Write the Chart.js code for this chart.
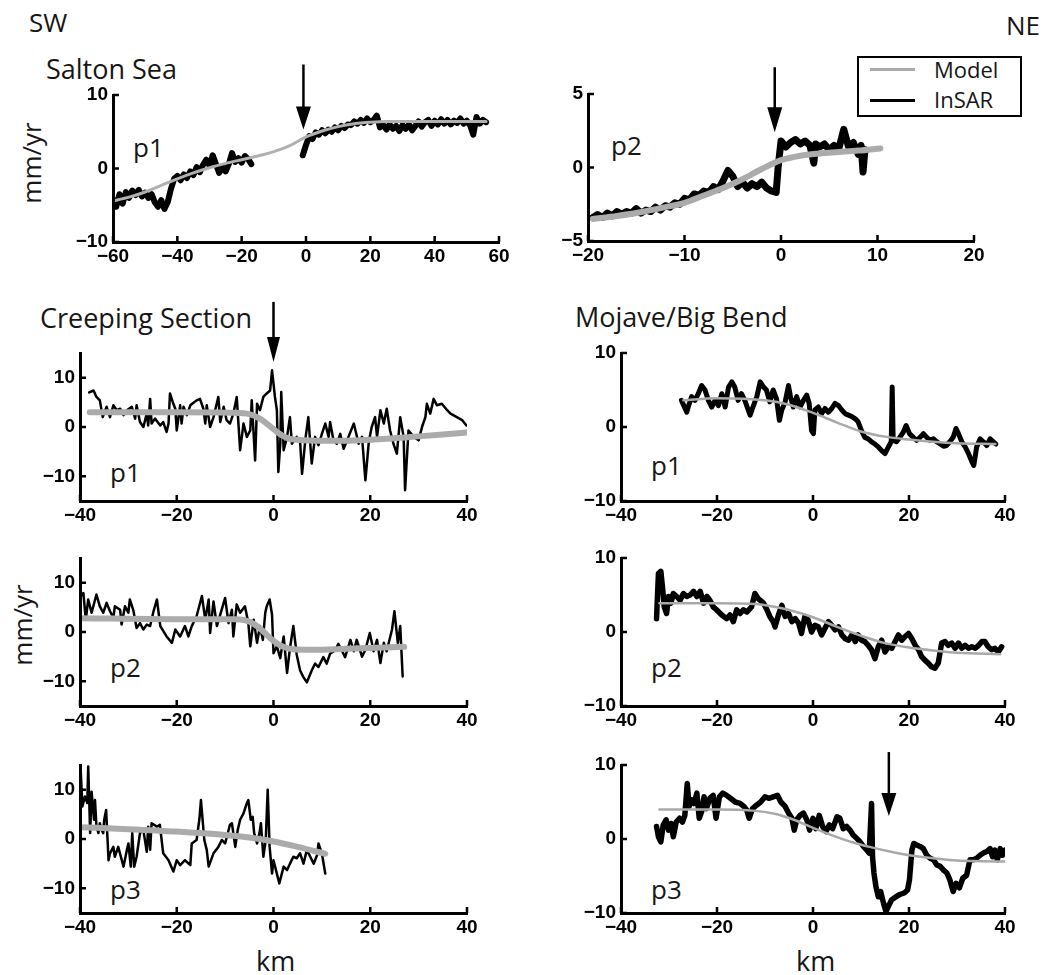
<!DOCTYPE html>
<html><head><meta charset="utf-8">
<script src="https://cdn.jsdelivr.net/npm/chart.js@4.4.1/dist/chart.umd.min.js"></script>
<style>
html,body{margin:0;padding:0;background:#fff;}
#fig{position:relative;width:1043px;height:975px;overflow:hidden;background:#fff;}
#fig canvas{position:absolute;}
.t{position:absolute;font-family:"Open Sans",sans-serif;font-size:26px;line-height:1;color:#161616;white-space:nowrap;}
.h{font-size:27px;}
.rot{transform:translate(-50%,-50%) rotate(-90deg);}
.lg{font-size:22px;}
</style></head><body>
<div id="fig">
  <div class="t" style="left:29px;top:9px">SW</div>
  <div class="t" style="left:1006px;top:12px">NE</div>
  <div class="t h" style="left:46px;top:55px">Salton Sea</div>
  <div class="t h" style="left:40px;top:304px">Creeping Section</div>
  <div class="t h" style="left:575px;top:303px">Mojave/Big Bend</div>
  <div class="t rot" style="left:31px;top:163px">mm/yr</div>
  <div class="t rot" style="left:22px;top:625px">mm/yr</div>
  <div class="t h" style="left:256px;top:947px">km</div>
  <div class="t h" style="left:796px;top:947px">km</div>
  <div class="t" style="left:133px;top:134px">p1</div>
  <div class="t" style="left:611px;top:132px">p2</div>
  <div class="t" style="left:110px;top:459px">p1</div>
  <div class="t" style="left:651px;top:452px">p1</div>
  <div class="t" style="left:110px;top:654px">p2</div>
  <div class="t" style="left:651px;top:654px">p2</div>
  <div class="t" style="left:110px;top:876px">p3</div>
  <div class="t" style="left:651px;top:876px">p3</div>
  <div style="position:absolute;left:857px;top:56px;width:165px;height:61px;box-sizing:border-box;border:2px solid #000;background:#fff;"></div>
  <div style="position:absolute;left:870px;top:68px;width:45px;height:3px;background:#ababab;"></div>
  <div style="position:absolute;left:870px;top:99px;width:45px;height:2.5px;background:#000;"></div>
  <div class="t lg" style="left:934px;top:58px">Model</div>
  <div class="t lg" style="left:934px;top:88px">InSAR</div>
</div>
<script>
// ---------- tick labels ----------
const kmTicksSalton1 = [-60, -40, -20, 0, 20, 40, 60];
const kmTicksSalton2 = [-20, -10, 0, 10, 20];
const kmTicks40 = [-40, -20, 0, 20, 40];
const velTicks10 = [-10, 0, 10];
const velTicks5 = [-5, 0, 5];

// ---------- Salton Sea p1 ----------
const saltonP1Km = [-60,-59,-58,-57,-56,-55,-54,-53,-52,-51,-50,-49,-48,-47,-46,-45,-44,-43,-42,-41,
 -40,-39,-38,-37,-36,-35,-34,-33,-32,-31,-30,-29,-28,-27,-26,-25,-24,-23,-22,-21,-20,-19,-18,-17,
 -9,
 -1,0,1,2,3,4,5,6,7,8,9,10,11,12,13,14,15,16,17,18,19,20,21,22,23,24,25,26,27,28,29,30,31,32,33,34,35,36,37,38,
 39,40,41,42,43,44,45,46,47,48,49,50,51,52,53,54,55,56];
const saltonP1Vel = [-4.2,-5.2,-3.5,-4.8,-3.2,-4.0,-3.0,-3.6,-2.9,-3.8,
 -3.3,-4.0,-3.5,-4.6,-5.2,-4.3,-5.5,-4.6,-2.8,-1.4,
 -1.0,-1.6,-0.8,-1.3,-0.4,-0.9,0.2,-0.5,0.5,1.2,
 0.4,1.8,0.6,-0.6,0.2,-0.4,0.6,2.1,0.9,1.4,
 0.8,1.7,1.3,0.6,
 null,
 1.8,3.2,4.4,4.0,4.9,4.6,5.2,4.8,5.3,5.0,
 5.6,5.2,5.8,5.5,6.0,5.9,6.4,6.1,6.6,6.2,
 6.8,6.3,6.6,7.2,5.6,5.9,5.3,6.0,5.4,5.8,
 5.1,5.9,5.4,6.0,5.2,5.8,6.4,5.7,6.3,6.6,
 5.8,6.5,6.0,6.7,6.1,6.6,6.0,6.5,6.2,6.8,
 6.1,6.5,5.9,4.6,7.0,6.1,6.6,6.3];
const saltonP1ModelKm = [-60,-55,-50,-45,-40,-35,-30,-25,-20,-15,-10,-5,0,5,10,15,20,25,30,40,50,56];
const saltonP1Model = [-4.4,-3.9,-3.2,-2.3,-1.4,-0.6,0.1,0.7,1.2,1.7,2.3,3.1,4.3,5.1,5.7,6.1,6.3,6.4,6.4,6.4,6.4,6.4];

// ---------- Salton Sea p2 ----------
const saltonP2Km = [-19.5,-19,-18.5,-18,-17.5,-17,-16.5,-16,-15.5,-15,-14.5,-14,-13.5,-13,-12.5,-12,-11.5,-11,-10.5,-10,
 -9.5,-9,-8.5,-8,-7.5,-7,-6.5,-6,-5.5,-5,-4.5,-4,-3.5,-3,-2.5,-2,-1.5,-1,-0.5,-0.3,
 0,0.5,1,1.5,2,2.5,3,3.4,3.6,4,4.5,5,5.5,6,6.5,7,7.5,8,8.3,8.5,8.7];
const saltonP2Vel = [-3.4,-3.2,-3.4,-3.1,-3.3,-3.0,-3.2,-3.0,-3.1,-2.8,
 -3.1,-2.9,-3.0,-2.7,-2.9,-2.6,-2.7,-2.4,-2.5,-2.1,
 -2.2,-1.8,-1.9,-1.6,-1.7,-1.3,-1.5,-0.9,-0.2,-0.6,
 -1.3,-1.0,-1.4,-1.1,-1.3,-1.0,-1.4,-1.6,-1.7,0.0,
 1.8,1.4,1.7,1.9,1.6,1.8,1.5,0.3,1.6,1.4,
 1.6,1.2,1.5,1.3,2.6,1.4,1.7,0.9,1.5,-0.3,1.2];
const saltonP2ModelKm = [-19.5,-17,-15,-12,-10,-8,-6,-4,-2,0,2,4,6,8,10.3];
const saltonP2Model = [-3.5,-3.3,-3.1,-2.7,-2.4,-1.9,-1.4,-0.8,-0.1,0.5,0.8,0.95,1.05,1.15,1.3];

// ---------- Creeping Section p1 ----------
const creepP1Km = [-38.1,-37.2,-36.6,-35.9,-35.3,-34.5,-33.8,-33.1,-32.4,-31.7,
 -31.0,-30.3,-29.3,-28.6,-28.3,-27.6,-26.9,-26.2,-25.9,-25.5,
 -25.2,-24.5,-23.4,-22.8,-22.1,-21.7,-21.4,-20.7,-20.3,-20.0,
 -19.3,-19.0,-18.6,-17.9,-17.2,-15.9,-15.2,-14.5,-14.1,-13.8,
 -13.1,-12.4,-11.4,-11.0,-10.3,-9.7,-9.0,-8.3,-7.6,-6.9,
 -6.2,-5.5,-4.8,-4.5,-3.8,-3.4,-2.8,-2.1,-1.4,-0.7,
 -0.3,0.3,0.7,1.0,1.4,1.6,2.1,2.8,3.4,3.8,
 4.8,5.5,5.9,6.6,7.2,7.9,8.6,9.3,10.0,10.7,
 11.4,11.7,12.4,13.1,13.8,14.5,15.5,16.6,17.6,18.3,
 19.0,19.7,20.3,21.0,21.4,22.1,22.8,23.4,24.1,24.8,
 25.5,26.2,26.9,27.2,27.9,29.0,30.0,30.7,31.4,31.7,
 32.4,33.1,33.8,34.8,35.9,36.6,37.9,39.0,39.9];
const creepP1Vel = [7.0,7.4,6.1,5.4,2.0,4.1,2.0,4.4,3.4,3.7,
 2.4,3.4,4.1,1.7,4.4,1.0,0.0,2.7,0.3,5.7,
 0.7,1.7,0.3,1.0,-1.0,0.7,6.8,4.7,3.7,-0.7,
 4.4,0.7,4.1,2.4,4.4,5.4,5.7,3.7,0.7,4.4,
 0.0,2.0,6.1,1.0,4.1,1.4,0.7,2.7,6.1,-4.7,
 0.7,-2.0,-0.7,5.4,-6.8,4.7,3.4,6.1,6.8,7.4,
 11.5,6.1,3.4,-9.1,-3.4,7.1,-4.7,-2.0,2.0,-3.4,
 -2.0,-3.0,-9.5,-2.4,2.0,-7.4,-2.0,-3.7,-1.4,0.7,
 -2.0,1.0,-2.7,-3.4,-1.4,-4.4,-2.0,0.7,-3.4,-2.0,
 -10.8,-3.0,0.0,2.0,-2.0,3.4,0.7,3.7,-0.7,-3.4,
 -5.4,2.0,-2.0,-12.8,-0.7,-2.0,-2.7,0.0,2.0,4.7,
 2.7,5.7,4.4,4.7,3.4,2.7,2.0,1.4,0.3];
const creepP1ModelKm = [-38,-20,-8,-5,-3,-1,1,3,5,10,15,20,25,30,35,40];
const creepP1Model = [3.0,3.0,2.9,2.6,1.8,0.4,-1.2,-2.3,-2.6,-2.8,-2.8,-2.6,-2.3,-1.9,-1.5,-1.1];

// ---------- Creeping Section p2 ----------
const creepP2Km = [-39.8,-39.3,-38.8,-38.3,-37.6,-36.6,-35.9,-35.2,-34.5,-33.8,
 -33.1,-32.8,-31.7,-31.4,-30.7,-30.0,-29.7,-29.0,-28.3,-27.6,
 -26.9,-26.2,-25.5,-24.8,-24.1,-23.4,-22.1,-21.0,-20.3,-19.3,
 -18.3,-17.6,-16.9,-15.9,-14.8,-14.1,-13.4,-13.1,-12.4,-11.7,
 -10.0,-9.3,-8.6,-8.3,-7.6,-6.9,-5.9,-5.2,-4.8,-4.1,
 -3.4,-2.8,-2.2,-1.7,-1.4,-0.8,-0.3,0.0,0.7,1.4,
 2.1,2.8,3.4,4.1,4.8,5.5,6.2,6.9,7.9,8.6,
 9.3,10.3,11.0,11.7,12.8,13.4,14.1,14.8,15.9,16.6,
 17.2,18.3,19.0,19.9,20.7,21.4,22.1,22.8,23.4,24.5,
 25.0,25.7,26.2,26.7];
const creepP2Vel = [7.3,7.9,2.5,6.6,3.9,7.6,5.2,3.9,5.9,4.2,
 2.9,5.2,4.5,1.5,5.2,3.9,6.6,4.5,0.8,1.8,
 0.5,1.5,1.2,4.2,6.6,1.2,-0.9,-2.2,0.5,-0.9,
 1.2,-0.9,1.2,3.2,7.3,2.5,6.6,-0.2,6.2,1.2,
 6.9,1.8,4.5,-0.9,5.6,3.9,5.2,1.8,-2.9,2.5,
 -2.2,1.2,-1.6,3.9,5.2,6.6,3.5,-4.3,-2.9,-5.3,
 -0.9,-8.3,-3.3,1.2,-4.6,-7.8,-9.2,-10.2,-7.8,-6.4,
 -7.1,-5.1,-6.4,-4.4,-3.7,-2.4,-3.7,-5.1,-1.6,-3.9,
 -1.6,-5.0,-3.6,-0.2,-3.9,-1.6,-6.3,-2.2,-3.9,0.5,
 4.2,-2.2,1.2,-9.0];
const creepP2ModelKm = [-40,-20,-8,-6,-4,-2,0,2,4,8,15,27];
const creepP2Model = [2.8,2.6,2.6,2.4,1.6,0.0,-1.8,-3.0,-3.5,-3.6,-3.4,-3.0];

// ---------- Creeping Section p3 ----------
const creepP3Km = [-39.9,-39.5,-39.0,-38.5,-38.3,-37.9,-37.6,-37.1,-36.9,-36.6,
 -36.2,-35.9,-35.5,-35.2,-35.0,-34.6,-34.1,-33.8,-33.1,-32.8,
 -32.1,-31.0,-30.3,-30.0,-29.5,-29.2,-28.8,-28.3,-27.6,-26.9,
 -26.2,-25.9,-25.5,-25.2,-24.1,-23.5,-22.8,-21.7,-20.7,-20.0,
 -19.3,-18.3,-17.2,-16.9,-15.9,-15.3,-15.0,-14.3,-13.8,-13.4,
 -12.4,-11.4,-10.7,-10.0,-9.0,-8.6,-7.9,-7.4,-6.9,-6.2,
 -5.5,-5.2,-4.7,-4.3,-4.0,-3.4,-2.9,-2.6,-2.1,-1.6,
 -1.2,-0.8,-0.3,0.0,1.2,2.1,2.8,3.4,4.1,4.8,
 5.5,6.2,6.9,7.6,8.3,9.0,9.3,10.0,10.7];
const creepP3Vel = [14.8,6.6,8.6,7.3,14.7,1.2,9.6,3.9,7.9,2.5,
 1.2,3.2,1.8,1.2,3.9,5.9,-4.3,-2.9,-1.6,-3.6,
 -1.6,-5.6,-2.2,-0.9,-5.6,1.2,-5.6,-3.6,1.2,1.8,
 -2.6,2.5,-2.2,3.2,2.5,2.9,-2.9,-4.3,-6.6,-4.3,
 -5.3,-4.3,-5.3,-0.9,-0.2,4.2,7.9,-0.2,-2.2,-5.6,
 -2.9,-1.6,-0.2,-0.9,2.9,3.2,-1.6,1.8,3.9,5.2,
 7.3,7.9,3.9,4.5,1.2,-0.9,1.2,3.2,-3.6,-0.2,
 10.0,-1.6,-7.0,-4.3,-9.0,-5.6,-6.3,-5.0,-3.6,-3.9,
 -2.9,-5.0,-2.2,-3.6,-5.0,-3.3,-0.9,-2.9,-7.0];
const creepP3ModelKm = [-40,-30,-20,-10,-5,0,5,10.7];
const creepP3Model = [2.4,2.0,1.5,0.8,0.3,-0.5,-1.6,-3.0];

// ---------- Mojave/Big Bend p1 ----------
const mojP1Km = [-27.4,-26.3,-26.0,-25.3,-24.6,-23.9,-23.2,-22.5,-21.8,-21.1,
 -20.4,-19.7,-19.0,-18.3,-17.6,-16.9,-16.3,-15.6,-14.9,-14.2,
 -13.5,-13.1,-12.4,-11.7,-11.0,-10.3,-9.7,-9.0,-8.3,-7.6,
 -7.0,-6.5,-5.8,-5.1,-4.7,-4.1,-3.4,-2.7,-2.0,-1.3,
 -0.8,-0.3,0.1,0.4,1.1,1.8,2.5,3.2,3.9,4.6,
 5.3,6.0,6.7,7.4,8.1,8.8,9.4,10.1,10.8,11.5,
 12.2,12.9,13.6,14.3,15.0,15.7,16.3,16.5,16.7,17.4,
 18.1,18.8,19.4,20.1,20.9,21.6,22.3,23.0,23.7,24.4,
 25.1,25.8,26.5,27.2,27.8,28.5,29.2,29.8,30.3,31.0,
 31.7,32.4,33.1,33.5,34.1,34.8,35.5,36.2,36.9,37.6,38.1];
const mojP1Vel = [3.6,2.0,2.7,4.1,3.6,4.5,5.6,5.0,3.6,2.7,
 3.6,2.9,4.5,2.7,5.4,6.1,5.4,3.6,4.5,3.6,
 2.3,1.6,2.9,4.1,6.1,5.4,5.0,3.4,5.0,3.8,
 0.9,2.3,3.4,5.6,4.1,2.7,4.1,2.7,3.6,4.3,
 3.2,-0.5,-0.9,2.3,2.7,1.8,2.5,2.0,2.5,3.2,
 2.9,2.3,1.8,1.6,1.4,1.1,0.7,-0.5,-1.4,-1.6,
 -2.0,-2.3,-2.7,-3.2,-3.6,-2.7,-2.0,5.4,-1.8,-2.0,
 -1.4,-0.7,0.2,-0.9,-1.4,-1.8,-1.4,-0.9,-1.4,-1.8,
 -1.6,-2.0,-2.3,-2.6,-2.5,-2.0,-1.4,-0.2,-0.9,-2.0,
 -2.7,-3.6,-4.7,-5.2,-2.7,-1.6,-2.0,-2.5,-1.6,-2.0,-2.3];
const mojP1ModelKm = [-27,-20,-10,-5,0,5,10,15,20,25,30,38];
const mojP1Model = [3.6,3.9,3.6,3.0,1.9,0.6,-0.6,-1.3,-1.7,-2.0,-2.2,-2.3];

// ---------- Mojave/Big Bend p2 ----------
const mojP2Km = [-32.6,-32.2,-31.7,-31.3,-31.0,-30.5,-30.1,-29.6,-29.1,-28.4,
 -27.7,-27.0,-26.3,-25.6,-24.9,-24.2,-23.5,-22.8,-22.1,-21.5,
 -20.8,-20.1,-19.0,-18.0,-17.3,-16.6,-15.9,-15.2,-14.5,-13.8,
 -12.8,-12.1,-11.4,-10.3,-9.6,-9.0,-8.3,-7.9,-7.2,-6.5,
 -5.8,-5.1,-4.4,-3.7,-3.0,-2.4,-1.7,-1.0,-0.3,0.4,
 1.1,1.8,2.5,3.2,3.9,4.6,5.3,6.0,6.7,7.4,
 8.1,8.8,9.4,10.1,10.8,11.5,12.2,12.9,13.6,14.3,
 15.0,15.7,16.4,17.1,17.8,18.5,19.2,19.9,20.6,21.3,
 22.0,22.6,23.3,24.0,24.7,25.4,26.1,26.8,27.5,28.2,
 28.9,29.6,30.3,31.0,31.7,32.4,33.1,33.8,34.5,35.2,
 35.8,36.5,37.2,37.9,38.6,39.3];
const mojP2Vel = [1.8,7.9,8.2,5.7,3.4,2.5,4.8,3.9,5.2,4.8,
 4.3,5.2,4.8,5.0,5.5,4.8,5.5,3.9,4.8,4.3,
 3.4,3.0,2.3,1.8,2.3,1.4,3.0,2.5,3.0,2.7,
 3.4,5.2,4.5,3.9,3.0,2.1,1.4,0.7,2.3,3.6,
 2.1,2.5,1.4,1.8,1.2,-0.2,2.1,1.6,0.0,0.9,
 0.7,-0.4,0.5,1.4,0.9,0.3,0.7,-0.4,-0.9,-1.1,
 -0.4,-1.3,-0.4,-1.1,-1.3,-1.8,-2.4,-3.6,-2.0,-1.1,
 -2.7,-2.0,-2.2,-1.3,-0.4,-1.1,-0.6,-0.2,-0.9,-1.8,
 -2.4,-3.3,-3.8,-4.2,-4.7,-4.9,-4.2,-1.5,-1.3,-1.8,
 -1.5,-2.2,-1.5,-2.2,-1.8,-2.2,-2.0,-2.2,-1.8,-1.3,
 -1.3,-2.0,-2.4,-2.2,-2.7,-2.0];
const mojP2ModelKm = [-32,-20,-12,-8,-4,0,5,10,15,20,25,30,39];
const mojP2Model = [3.9,3.9,3.8,3.4,2.8,2.0,0.7,-0.5,-1.5,-2.1,-2.5,-2.8,-3.0];

// ---------- Mojave/Big Bend p3 ----------
const mojP3Km = [-32.6,-32.2,-31.7,-31.2,-30.6,-30.1,-29.6,-29.1,-28.5,-27.8,
 -27.2,-26.7,-26.2,-25.8,-25.3,-24.8,-24.2,-23.7,-23.2,-22.7,
 -22.2,-21.5,-20.8,-20.2,-19.5,-18.8,-18.0,-17.2,-16.2,-15.2,
 -14.4,-13.8,-13.3,-12.6,-11.7,-10.9,-10.0,-9.1,-8.3,-7.4,
 -6.7,-5.8,-5.1,-4.4,-3.9,-3.4,-2.7,-2.0,-1.3,-0.7,
 0.0,0.6,1.3,2.0,2.7,3.4,4.1,5.0,5.6,6.3,
 7.0,7.7,8.4,9.1,9.8,10.5,11.2,11.7,12.2,12.4,
 12.7,13.1,13.6,14.1,14.7,15.2,15.7,16.4,17.3,18.1,
 19.0,19.7,20.1,20.6,21.0,21.6,22.3,23.0,23.7,24.4,
 25.1,25.8,26.5,27.2,27.9,28.5,29.2,29.8,30.5,31.2,
 32.0,32.7,33.4,34.1,34.8,35.5,36.2,36.9,37.4,37.9,
 38.4,39.0,39.5,40.0];
const mojP3Vel = [1.7,0.3,-0.4,1.9,2.6,1.2,2.1,0.3,2.3,2.8,
 2.3,3.2,7.5,4.4,5.3,4.8,6.2,2.8,3.7,5.7,
 4.1,5.5,5.9,2.8,5.7,6.2,5.9,5.5,5.0,4.8,
 4.4,3.9,2.8,4.1,4.6,5.0,5.7,5.5,5.7,5.9,
 5.0,4.4,3.5,2.8,1.2,2.6,3.2,3.5,2.6,1.2,
 2.8,1.4,3.2,1.7,1.0,1.9,1.4,3.0,2.8,1.4,
 1.7,1.2,0.5,0.1,-0.4,-1.0,-1.5,-1.9,4.8,-2.4,
 -4.6,-6.4,-7.8,-7.1,-8.7,-9.8,-9.1,-8.2,-7.8,-7.5,
 -7.3,-6.9,-5.5,-1.5,-0.6,-0.8,-1.0,-1.3,-2.2,-2.6,
 -2.8,-3.5,-3.7,-4.2,-4.6,-5.5,-7.1,-6.0,-6.6,-5.3,
 -4.9,-2.8,-2.8,-2.6,-2.2,-1.9,-1.7,-1.3,-2.4,-1.5,
 -2.8,-1.3,-2.2,-1.5];
const mojP3ModelKm = [-32,-20,-12,-8,-4,0,4,8,12,16,20,25,30,35,40];
const mojP3Model = [4.0,4.0,3.8,3.4,2.6,1.5,0.5,-0.4,-1.1,-1.7,-2.2,-2.6,-2.9,-3.0,-3.05];

// ---------- drawing ----------
const fig = document.getElementById('fig');
const pts = (xs, ys) => xs.map((x, i) => ({x: x, y: ys[i]}));
const fmt = v => (v < 0 ? '\u2212' : '') + Math.abs(v);
const tickFont = {family: '"Liberation Sans", Arial, sans-serif', size: 19, weight: 700};

const inwardTicks = {
  id: 'inwardTicks',
  afterDraw(chart) {
    const {ctx, chartArea: a, scales: {x, y}} = chart;
    ctx.save();
    ctx.strokeStyle = '#000';
    ctx.lineWidth = 2.5;
    ctx.beginPath();
    x.ticks.forEach(t => { const p = x.getPixelForValue(t.value); ctx.moveTo(p, a.bottom); ctx.lineTo(p, a.bottom - 6); });
    y.ticks.forEach(t => { const p = y.getPixelForValue(t.value); ctx.moveTo(a.left, p); ctx.lineTo(a.left + 6, p); });
    ctx.stroke();
    ctx.restore();
  }
};
const faultArrow = {
  id: 'faultArrow',
  afterDraw(chart, args, o) {
    if (!o || o.x === undefined) return;
    const {ctx} = chart;
    const px = chart.scales.x.getPixelForValue(o.x);
    const tip = chart.scales.y.getPixelForValue(o.tipY);
    ctx.save();
    ctx.strokeStyle = '#000'; ctx.fillStyle = '#000'; ctx.lineWidth = 2.5;
    ctx.beginPath(); ctx.moveTo(px, tip - o.len); ctx.lineTo(px, tip - o.head + 1); ctx.stroke();
    ctx.beginPath(); ctx.moveTo(px - o.hw, tip - o.head); ctx.lineTo(px + o.hw, tip - o.head); ctx.lineTo(px, tip); ctx.closePath(); ctx.fill();
    ctx.restore();
  }
};

function panel(rect, cfg) {
  const YW = 60, PT = 62, PR = 25, XH = 34;
  const w = rect.r - rect.l + YW + PR, h = rect.b - rect.t + PT + XH;
  const c = document.createElement('canvas');
  c.width = w; c.height = h;
  c.style.left = (rect.l - YW) + 'px'; c.style.top = (rect.t - PT) + 'px';
  c.style.width = w + 'px'; c.style.height = h + 'px';
  fig.appendChild(c);
  new Chart(c, {
    type: 'line',
    data: {datasets: [
      {label: 'Model', data: pts(cfg.modelKm, cfg.model), borderColor: cfg.modelColor, borderWidth: cfg.modelW,
       pointRadius: 0, cubicInterpolationMode: 'monotone', borderCapStyle: 'round'},
      {label: 'InSAR', data: pts(cfg.km, cfg.vel), borderColor: '#000', borderWidth: cfg.dataW,
       pointRadius: 0, tension: 0, borderJoinStyle: 'round', borderCapStyle: 'round', spanGaps: false}
    ]},
    options: {
      responsive: false, animation: false, events: [],
      layout: {padding: {top: PT, right: PR, left: 0, bottom: 0}},
      plugins: {legend: {display: false}, tooltip: {enabled: false}, faultArrow: cfg.arrow || {}},
      scales: {
        x: {type: 'linear', min: cfg.xTicks[0], max: cfg.xTicks[cfg.xTicks.length - 1],
            afterBuildTicks: s => { s.ticks = cfg.xTicks.map(v => ({value: v})); },
            afterFit: s => { s.height = XH; },
            grid: {display: false, drawTicks: false}, border: {display: true, width: 3, color: '#000', z: 1},
            ticks: {font: tickFont, color: '#000', padding: 3, maxRotation: 0, autoSkip: false, callback: fmt}},
        y: {type: 'linear', min: cfg.yMin, max: cfg.yMax,
            afterBuildTicks: s => { s.ticks = cfg.yTicks.map(v => ({value: v})); },
            afterFit: s => { s.width = YW; },
            grid: {display: false, drawTicks: false}, border: {display: true, width: 3, color: '#000', z: 1},
            ticks: {font: tickFont, color: '#000', padding: 5, autoSkip: false, callback: fmt}}
      }
    },
    plugins: [inwardTicks, faultArrow]
  });
}

const thinGray = '#a9a9a9', thickGray = '#ababab';
panel({l: 113, t: 95, r: 499, b: 242}, {km: saltonP1Km, vel: saltonP1Vel, modelKm: saltonP1ModelKm, model: saltonP1Model,
  xTicks: kmTicksSalton1, yTicks: velTicks10, yMin: -10, yMax: 10, dataW: 6, modelW: 3, modelColor: '#b0b0b0',
  arrow: {x: -0.8, tipY: 5.3, len: 65, head: 23, hw: 7.5}});
panel({l: 588, t: 94, r: 974, b: 241}, {km: saltonP2Km, vel: saltonP2Vel, modelKm: saltonP2ModelKm, model: saltonP2Model,
  xTicks: kmTicksSalton2, yTicks: velTicks5, yMin: -5, yMax: 5, dataW: 7, modelW: 6, modelColor: thickGray,
  arrow: {x: -0.65, tipY: 2.4, len: 65, head: 25, hw: 7.5}});
panel({l: 80, t: 353, r: 467, b: 501}, {km: creepP1Km, vel: creepP1Vel, modelKm: creepP1ModelKm, model: creepP1Model,
  xTicks: kmTicks40, yTicks: velTicks10, yMin: -15, yMax: 15, dataW: 2.5, modelW: 6, modelColor: thickGray,
  arrow: {x: 0, tipY: 13.2, len: 60, head: 25, hw: 6.5}});
panel({l: 621, t: 353, r: 1005, b: 501}, {km: mojP1Km, vel: mojP1Vel, modelKm: mojP1ModelKm, model: mojP1Model,
  xTicks: kmTicks40, yTicks: velTicks10, yMin: -10, yMax: 10, dataW: 5, modelW: 2.5, modelColor: thinGray});
panel({l: 80, t: 558, r: 467, b: 706}, {km: creepP2Km, vel: creepP2Vel, modelKm: creepP2ModelKm, model: creepP2Model,
  xTicks: kmTicks40, yTicks: velTicks10, yMin: -15, yMax: 15, dataW: 2.5, modelW: 6, modelColor: thickGray});
panel({l: 621, t: 558, r: 1005, b: 706}, {km: mojP2Km, vel: mojP2Vel, modelKm: mojP2ModelKm, model: mojP2Model,
  xTicks: kmTicks40, yTicks: velTicks10, yMin: -10, yMax: 10, dataW: 5.5, modelW: 2.5, modelColor: thinGray});
panel({l: 80, t: 765, r: 467, b: 913}, {km: creepP3Km, vel: creepP3Vel, modelKm: creepP3ModelKm, model: creepP3Model,
  xTicks: kmTicks40, yTicks: velTicks10, yMin: -15, yMax: 15, dataW: 2.5, modelW: 6, modelColor: thickGray});
panel({l: 621, t: 765, r: 1005, b: 913}, {km: mojP3Km, vel: mojP3Vel, modelKm: mojP3ModelKm, model: mojP3Model,
  xTicks: kmTicks40, yTicks: velTicks10, yMin: -10, yMax: 10, dataW: 5.5, modelW: 2.5, modelColor: thinGray,
  arrow: {x: 15.8, tipY: 3.1, len: 64, head: 23, hw: 7.5}});
</script>
</body></html>
